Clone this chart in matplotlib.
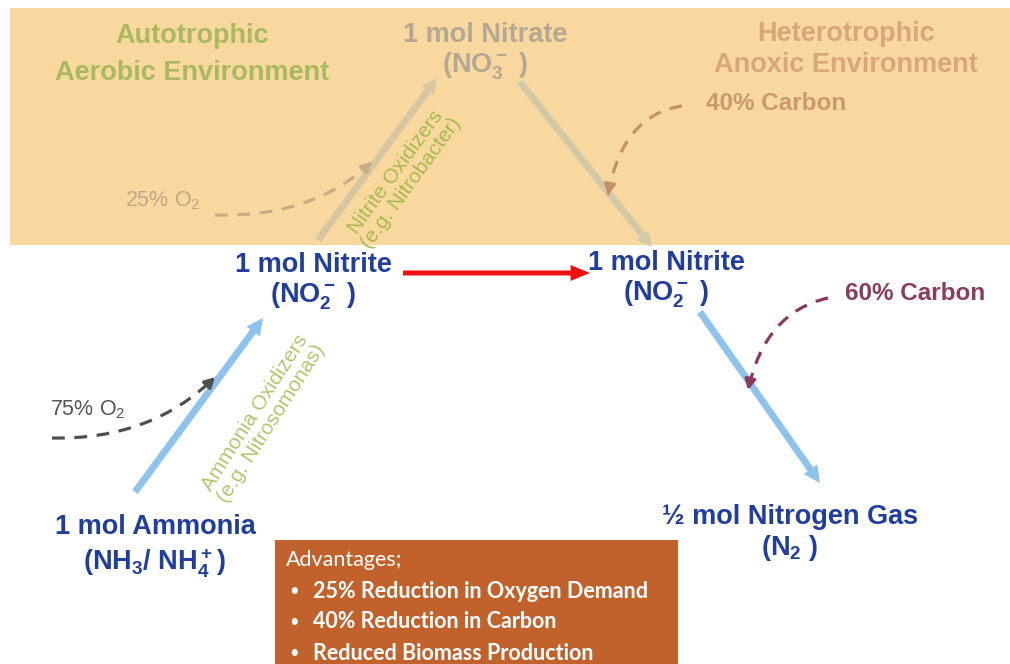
import numpy as np
import matplotlib
matplotlib.use("Agg")
import matplotlib.pyplot as plt
from matplotlib.patches import Rectangle, FancyArrowPatch, PathPatch
from matplotlib.path import Path

plt.rcParams["mathtext.default"] = "regular"

# ---- content ----
band_titles = [["Autotrophic", "Aerobic Environment"], ["Heterotrophic", "Anoxic Environment"]]
nodes = [["1 mol Ammonia", "(NH$_3$/ NH$_4^+$)"],
         ["1 mol Nitrite", "(NO$_2^-$ )"],
         ["1 mol Nitrate", "(NO$_3^-$ )"],
         ["1 mol Nitrite", "(NO$_2^-$ )"],
         ["½ mol Nitrogen Gas", "(N$_2$ )"]]
inputs = ["75% O$_2$", "25% O$_2$", "40% Carbon", "60% Carbon"]
organisms = ["Ammonia Oxidizers\n(e.g. Nitrosomonas)", "Nitrite Oxidizers\n(e.g. Nitrobacter)"]
adv_title = "Advantages;"
adv_items = ["25% Reduction in Oxygen Demand", "40% Reduction in Carbon", "Reduced Biomass Production"]

FAM = ["Liberation Sans", "DejaVu Sans"]
W, H = 1010, 664
fig = plt.figure(figsize=(W / 100, H / 100), dpi=100)
ax = fig.add_axes([0, 0, 1, 1])
ax.set_xlim(0, W)
ax.set_ylim(H, 0)
ax.axis("off")

# background band
ax.add_patch(Rectangle((10, 8), 1000, 237, facecolor="#F9D8A0", edgecolor="none", zorder=0))

def txt(x, y, s, color, size, weight="bold", **kw):
    ax.text(x, y, s, color=color, fontsize=size, fontweight=weight, family=FAM,
            ha=kw.pop("ha", "center"), va=kw.pop("va", "center"),
            multialignment="center", linespacing=kw.pop("linespacing", 1.15), **kw)

def lines(x, ys, parts, color, size):
    for y, s in zip(ys, parts):
        txt(x, y, s, color, size)

# band titles
lines(192, (36, 73), band_titles[0], "#ABB862", 19.5)
lines(846, (34, 65), band_titles[1], "#D8A678", 19.5)

# nodes
blue = "#213E9E"
lines(155, (527, 563), nodes[0], blue, 19.5)
lines(313, (265, 296), nodes[1], blue, 19.5)
lines(485, (35, 66), nodes[2], "#B4A892", 19.5)
lines(666, (263, 294), nodes[3], blue, 19.5)
lines(790, (517, 548), nodes[4], blue, 19.5)

# inputs
txt(50, 410, inputs[0], "#555555", 15.5, weight="normal", ha="left")
txt(125, 201, inputs[1], "#BEA889", 15.5, weight="normal", ha="left")
txt(706, 104, inputs[2], "#CA9A6C", 17.5, ha="left")
txt(845, 293, inputs[3], "#8A3C5C", 17.5, ha="left")

# organisms (rotated)
txt(263, 418, organisms[0], "#B5C470", 15, weight="normal", rotation=57.5,
    rotation_mode="anchor", linespacing=1.0)
txt(404, 178, organisms[1], "#A6BA4E", 15, weight="normal", rotation=54,
    rotation_mode="anchor", linespacing=1.0)

# solid arrows
def arrow(p0, p1, color, tail, hw, hl, z=2):
    a = FancyArrowPatch(p0, p1, arrowstyle=f"simple,head_length={hl},head_width={hw},tail_width={tail}",
                        mutation_scale=1, color=color, shrinkA=0, shrinkB=0, lw=0, zorder=z)
    ax.add_patch(a)

arrow((135, 492), (263, 318), "#8DC3EC", 5, 12, 12)
arrow((318, 240), (437, 78), "#D6C7A2", 5, 11, 11)
arrow((520, 82), (652, 247), "#D2C9A9", 5, 11, 11)
arrow((700, 312), (820, 483), "#8DC3EC", 5, 12, 12)
arrow((403, 273), (590, 273), "#EE1111", 3.6, 11.5, 14, z=3)

# dashed curved arrows
def dashed(p0, c, p1, color):
    path = Path([p0, c, p1], [Path.MOVETO, Path.CURVE3, Path.CURVE3])
    ax.add_patch(PathPatch(path, facecolor="none", edgecolor=color, lw=2.3,
                           linestyle=(0, (4, 3)), capstyle="butt", zorder=4))
    d = np.array(p1, float) - np.array(c, float)
    d /= np.hypot(*d)
    start = np.array(p1, float) - 9 * d
    ax.add_patch(FancyArrowPatch(tuple(start), p1, arrowstyle="-|>,head_length=6,head_width=3.2",
                                 mutation_scale=1, color=color, lw=2.3, shrinkA=0, shrinkB=0, zorder=4))

dashed((52, 438), (152, 440), (215, 377), "#4F4F4F")
dashed((215, 215), (312, 218), (372, 162), "#C7AD84")
dashed((682, 106), (622, 115), (608, 195), "#C4906A")
dashed((828, 298), (765, 312), (748, 390), "#8A3A5C")

# advantages box
ax.add_patch(Rectangle((275, 540), 403, 130, facecolor="#C1622D", edgecolor="none", zorder=1))
bfam = ["Lato", "DejaVu Sans"]
ax.text(286, 560, adv_title, color="white", fontsize=15.5, family=bfam, ha="left", va="center", zorder=5)
for i, item in enumerate(adv_items):
    y = 591 + i * 31
    ax.text(289, y, "•", color="white", fontsize=12, family=bfam, ha="left", va="center", zorder=5)
    ax.text(313, y, item, color="white", fontsize=15.5, fontweight="bold", family=bfam,
            ha="left", va="center", zorder=5)

fig.savefig("out.png", dpi=100)
